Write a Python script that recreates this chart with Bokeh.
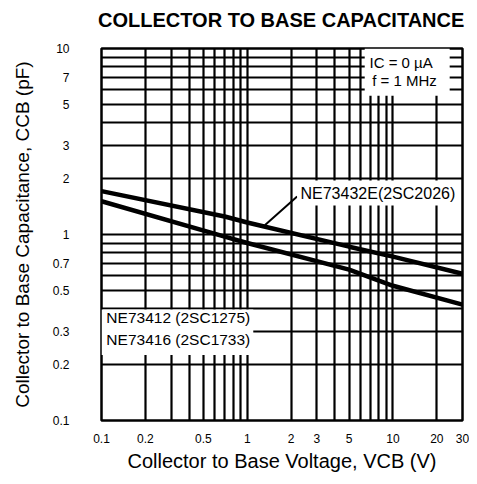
from bokeh.plotting import figure
from bokeh.layouts import column
from bokeh.models import FixedTicker, Label, BoxAnnotation, CustomJSTickFormatter, Div
from bokeh.embed import file_html
from bokeh.resources import INLINE

# ---- data ----
voltage = [0.1, 0.7, 1.0, 5.0, 10.0, 30.0]
ne73432e = [1.71, 1.25, 1.16, 0.86, 0.76, 0.615]
ne73412 = [1.51, 0.975, 0.90, 0.647, 0.53, 0.42]
x_tick_labels = [0.1, 0.2, 0.5, 1, 2, 3, 5, 10, 20, 30]
y_tick_labels = [0.1, 0.2, 0.3, 0.5, 0.7, 1, 2, 3, 5, 7, 10]
title_text = "COLLECTOR TO BASE CAPACITANCE"

FONT = "Liberation Sans"
W = 469
TITLE_H = 30

grid_x = [round(m * 10.0 ** e, 6) for e in (-1, 0, 1) for m in range(1, 10) if m * 10.0 ** e <= 30] + [30]
grid_y = [round(m * 10.0 ** e, 6) for e in (-1, 0) for m in range(1, 10)] + [10]

title = Div(text=title_text, width=W, height=TITLE_H,
            styles={"font-family": FONT, "font-size": "20px", "font-weight": "bold",
                    "line-height": "20px", "color": "black", "padding-top": "10px",
                    "padding-left": "98px", "margin": "0px", "white-space": "nowrap",
                    "box-sizing": "border-box"})

p = figure(width=W, height=476 - TITLE_H, x_axis_type="log", y_axis_type="log",
           x_range=(0.1, 30), y_range=(0.1, 10),
           output_backend="svg", toolbar_location=None,
           min_border_left=101, min_border_right=7, min_border_top=48 - TITLE_H,
           min_border_bottom=56)

p.outline_line_color = "black"
p.outline_line_width = 2.5
p.background_fill_color = "white"
p.border_fill_color = "white"

for g, ticks in ((p.xgrid, grid_x), (p.ygrid, grid_y)):
    g.ticker = FixedTicker(ticks=ticks)
    g.grid_line_color = "black"
    g.grid_line_width = 2.2
    g.grid_line_alpha = 1.0

fmt = "return String(tick);"
p.xaxis.ticker = FixedTicker(ticks=x_tick_labels)
p.yaxis.ticker = FixedTicker(ticks=y_tick_labels)
for ax in (p.xaxis[0], p.yaxis[0]):
    ax.formatter = CustomJSTickFormatter(code=fmt)
    ax.axis_line_color = None
    ax.major_tick_line_color = None
    ax.minor_tick_line_color = None
    ax.major_label_text_font = FONT
    ax.major_label_text_font_size = "12px"
    ax.major_label_text_color = "black"
    ax.axis_label_text_font = FONT
    ax.axis_label_text_font_style = "normal"
    ax.axis_label_text_color = "black"

p.xaxis.axis_label = "Collector to Base Voltage, VCB (V)"
p.yaxis.axis_label = "Collector to Base Capacitance, CCB (pF)"
p.xaxis.axis_label_text_font_size = "20px"
p.yaxis.axis_label_text_font_size = "19px"
p.xaxis.major_label_standoff = 7
p.xaxis.axis_label_standoff = 4
p.yaxis.major_label_standoff = 26
p.yaxis.axis_label_standoff = 17

# curves
p.line(voltage, ne73432e, line_color="black", line_width=4.5)
p.line(voltage, ne73412, line_color="black", line_width=4.5)

# leader line for the NE73432E label
p.line([1.32, 2.2], [1.12, 1.6], line_color="black", line_width=2)

# white label boxes (cover the grid behind the texts)
for l, r, b, t in ((6.4, 24.5, 5.57, 10), (2.2, 28.0, 1.43, 1.95), (0.1, 1.1, 0.225, 0.395)):
    p.add_layout(BoxAnnotation(left=l, right=r, bottom=b, top=t, fill_color="white",
                               fill_alpha=1.0, line_color=None))

def lab(x, y, text, size="15.5px"):
    p.add_layout(Label(x=x, y=y, text=text, text_font=FONT, text_font_size=size,
                       text_color="black", text_baseline="middle", text_align="left"))

lab(6.9, 8.4, "IC = 0 µA", "15px")
lab(7.2, 6.7, "f = 1 MHz", "15px")
lab(2.32, 1.67, "NE73432E(2SC2026)", "16px")
lab(0.108, 0.36, "NE73412 (2SC1275)")
lab(0.108, 0.274, "NE73416 (2SC1733)")

layout = column(title, p, spacing=0)
open("out.html", "w").write(file_html(layout, INLINE))
